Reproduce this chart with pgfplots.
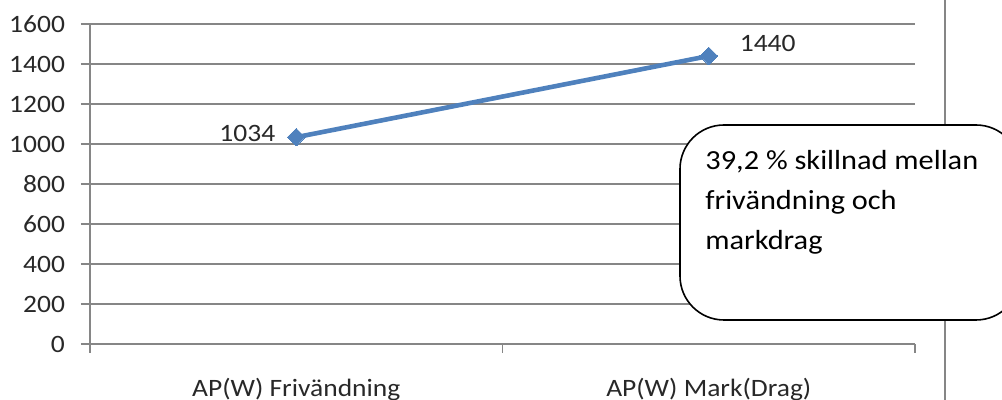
\documentclass[border=0pt]{standalone}
\usepackage{pgfplots}
\pgfplotsset{compat=1.18}
\usepackage{fontspec}
\setmainfont{Carlito}[FakeStretch=1.1]
\definecolor{gridgray}{RGB}{134,134,134}
\definecolor{lineblue}{RGB}{79,129,189}
\definecolor{txt}{RGB}{40,40,40}
\begin{document}
\begin{tikzpicture}[x=1pt,y=1pt]
\useasboundingbox (0,0) rectangle (501,200);
\begin{axis}[
  at={(45pt,28pt)}, anchor=south west,
  scale only axis, width=412.5pt, height=160pt,
  clip=false,
  xmin=-0.5, xmax=1.5, ymin=0, ymax=1600,
  ytick={0,200,...,1600},
  ymajorgrids, grid style={gridgray, line width=0.75pt},
  axis x line*=bottom, axis y line*=left,
  axis line style={gridgray, line width=0.75pt, -},
  xtick={0,1}, xticklabels={AP(W) Frivändning, AP(W) Mark(Drag)},
  major x tick style={draw=none},
  minor xtick={-0.5,0.5,1.5},
  tick align=outside, major tick length=4.5pt, minor tick length=4.5pt,
  tick style={gridgray, line width=0.75pt},
  ticklabel style={font=\fontsize{12.5}{14}\selectfont, text=txt},
  yticklabel style={xshift=-4.5pt},
  xticklabel style={yshift=-9pt},
  /pgf/number format/assume math mode=true,
  /pgf/number format/1000 sep={},
]
\addplot[lineblue, line width=2.3pt, mark=square*, mark size=3.1pt,
  mark options={rotate=45, fill=lineblue, draw=lineblue, line width=0pt}]
  coordinates {(0,1034) (1,1440)};
\node[anchor=east, font=\fontsize{12.5}{14}\selectfont, text=txt, xshift=-7pt, yshift=2pt] at (axis cs:0,1034) {1034};
\node[anchor=west, font=\fontsize{12.5}{14}\selectfont, text=txt, xshift=12pt, yshift=6.5pt] at (axis cs:1,1440) {1440};
\end{axis}
\draw[gridgray, line width=1pt] (472.5,0) -- (472.5,200);
\draw[black, line width=0.8pt, fill=white, rounded corners=22pt] (340,40) rectangle (510,137.5);
\node[anchor=base west, align=left, inner sep=0pt, font=\fontsize{13.8}{20}\selectfont] at (352.5,75) {39,2 \% skillnad mellan\\frivändning och\\markdrag};
\end{tikzpicture}
\end{document}
